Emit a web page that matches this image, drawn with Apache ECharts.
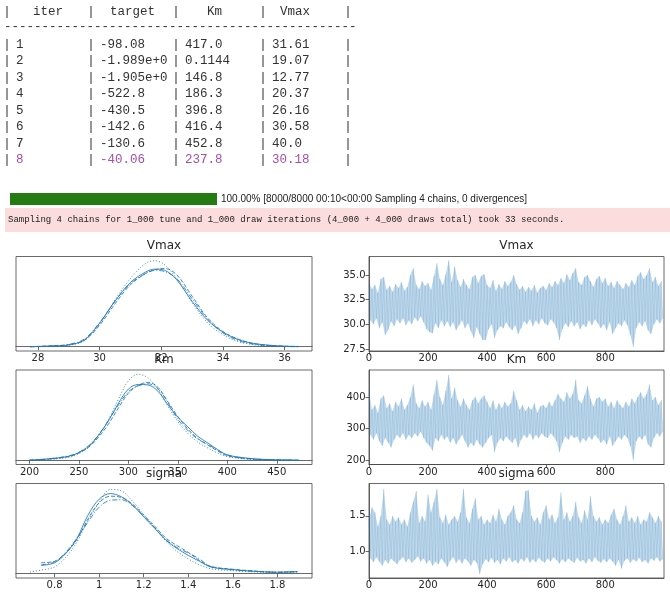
<!DOCTYPE html>
<html>
<head>
<meta charset="utf-8">
<title>trace plot</title>
<script src="https://cdn.jsdelivr.net/npm/echarts@6/dist/echarts.min.js"></script>
<style>
body { margin: 0; background: #fff; }
#main { width: 670px; height: 604px; }
</style>
</head>
<body>
<div id="main"></div>
<script type="text/javascript">

// optimizer log table
var tableHeader = ['iter', 'target', 'Km', 'Vmax'];
var iterCol   = ['1', '2', '3', '4', '5', '6', '7', '8'];
var targetCol = ['-98.08', '-1.989e+0', '-1.905e+0', '-522.8', '-430.5', '-142.6', '-130.6', '-40.06'];
var kmCol     = ['417.0', '0.1144', '146.8', '186.3', '396.8', '416.4', '452.8', '237.8'];
var vmaxCol   = ['31.61', '19.07', '12.77', '20.37', '26.16', '30.58', '40.0', '30.18'];
var bestRow = 7;

var progressText = '100.00% [8000/8000 00:10<00:00 Sampling 4 chains, 0 divergences]';
var warnText = 'Sampling 4 chains for 1_000 tune and 1_000 draw iterations (4_000 + 4_000 draws total) took 33 seconds.';

var varNames = ['Vmax', 'Km', 'sigma'];

// KDE of each chain (solid, dashed, dotted, dash-dot)
var vmaxGrid = [27.75, 28.5, 29, 29.5, 30, 30.5, 31, 31.5, 31.8, 32.1, 32.5, 33, 33.5, 34, 34.5, 35, 35.5, 36, 36.45];
var vmaxKde1 = [0, 0.003, 0.007, 0.026, 0.093, 0.18, 0.254, 0.296, 0.307, 0.303, 0.265, 0.18, 0.105, 0.058, 0.028, 0.013, 0.006, 0.002, 0.001];
var vmaxKde2 = [0, 0.004, 0.008, 0.025, 0.085, 0.17, 0.245, 0.29, 0.305, 0.31, 0.285, 0.2, 0.115, 0.06, 0.03, 0.012, 0.005, 0.002, 0.001];
var vmaxKde3 = [0, 0.002, 0.006, 0.024, 0.09, 0.185, 0.27, 0.33, 0.34, 0.325, 0.27, 0.175, 0.095, 0.048, 0.02, 0.008, 0.003, 0.001, 0];
var vmaxKde4 = [0, 0.003, 0.009, 0.03, 0.095, 0.18, 0.25, 0.29, 0.302, 0.298, 0.27, 0.19, 0.11, 0.055, 0.024, 0.01, 0.004, 0.001, 0];

// Km densities in units of 1e-3
var kmGrid = [200, 220, 240, 250, 260, 270, 280, 290, 300, 310, 320, 330, 340, 350, 360, 370, 380, 390, 400, 420, 440, 472];
var kmKde1 = [0, 0.2, 0.55, 1.06, 1.94, 3.46, 5.44, 7.84, 9.77, 10.4, 10.33, 9.45, 7.6, 5.9, 4.6, 3.3, 2.4, 1.48, 0.74, 0.28, 0.1, 0];
var kmKde2 = [0, 0.15, 0.5, 1.0, 1.8, 3.2, 5.0, 7.2, 9.2, 10.3, 10.7, 10.0, 8.0, 6.0, 4.3, 3.0, 2.1, 1.3, 0.6, 0.2, 0.07, 0];
var kmKde3 = [0, 0.1, 0.4, 0.9, 1.8, 3.4, 5.6, 8.4, 10.9, 11.8, 11.3, 9.7, 7.4, 5.3, 3.7, 2.5, 1.7, 1.0, 0.5, 0.15, 0.05, 0];
var kmKde4 = [0, 0.2, 0.6, 1.1, 2.0, 3.5, 5.5, 7.6, 9.4, 10.2, 10.5, 9.8, 7.9, 5.6, 4.1, 2.9, 2.2, 1.4, 0.7, 0.25, 0.08, 0];

var sigmaGrid = [0.69, 0.74, 0.8, 0.85, 0.9, 0.95, 1.0, 1.05, 1.1, 1.15, 1.2, 1.25, 1.3, 1.35, 1.4, 1.45, 1.5, 1.6, 1.7, 1.8, 1.89];
var sigmaKde1 = [null, 0.28, 0.37, 0.68, 1.19, 1.98, 2.52, 2.71, 2.6, 2.32, 1.92, 1.53, 1.13, 0.85, 0.62, 0.42, 0.23, 0.14, 0.08, 0.05, 0.07];
var sigmaKde2 = [null, 0.37, 0.42, 0.7, 1.15, 1.85, 2.4, 2.62, 2.58, 2.35, 1.98, 1.6, 1.2, 0.95, 0.72, 0.45, 0.25, 0.15, 0.09, 0.05, 0.08];
var sigmaKde3 = [0.06, 0.12, 0.23, 0.55, 1.07, 1.8, 2.4, 2.85, 2.8, 2.45, 2.0, 1.55, 1.1, 0.75, 0.5, 0.3, 0.17, 0.1, 0.06, 0.04, 0.05];
var sigmaKde4 = [null, 0.3, 0.4, 0.72, 1.2, 1.75, 2.25, 2.48, 2.5, 2.3, 1.95, 1.55, 1.15, 0.88, 0.7, 0.5, 0.24, 0.13, 0.08, 0.05, 0.07];

// trace: high / low of the draws in every block of 10 draws
var drawStep = 10;
var vmaxHi = [34.2,33.6,34.0,33.2,34.6,34.8,33.5,33.9,33.3,34.1, 33.7,34.3,33.4,33.8,35.0,35.7,34.0,33.6,34.4,33.9,
              34.2,33.5,34.9,36.2,34.6,34.0,35.1,36.5,34.3,35.9, 34.5,33.8,34.6,34.0,33.6,34.8,35.0,34.2,34.9,35.1,
              34.0,33.7,34.5,33.4,34.1,33.6,34.4,33.9,34.3,35.0, 34.1,33.5,33.9,33.3,33.8,33.4,34.0,33.2,33.7,33.9,
              33.5,34.2,33.8,34.4,34.0,34.7,34.2,35.1,34.5,35.2, 35.7,34.3,34.0,34.8,35.0,34.4,33.8,34.6,34.9,34.2,
              34.7,33.9,34.3,33.7,34.4,34.0,33.6,34.2,33.8,34.5, 34.0,34.9,35.3,34.6,35.0,35.7,34.3,34.8,33.9,34.4];
var vmaxLo = [30.4,30.0,30.6,29.6,30.2,28.9,29.4,30.3,29.8,30.5, 30.1,30.6,29.9,30.4,30.0,30.7,30.3,30.8,30.2,29.5,
              29.2,29.1,30.1,29.6,30.4,29.8,30.3,29.7,30.2,29.4, 29.9,30.4,29.6,30.1,29.3,28.6,29.7,29.0,28.4,28.4,
              29.5,30.0,28.6,29.4,29.8,29.6,30.2,29.7,29.4,29.9, 29.0,29.6,30.3,30.0,30.5,29.8,30.4,30.0,30.6,30.1,
              29.9,30.5,30.2,29.6,28.4,29.5,30.1,29.7,30.3,29.8, 30.2,29.5,30.0,29.7,30.4,29.9,30.5,30.1,29.6,30.0,
              29.4,30.2,29.0,29.6,30.1,29.8,30.4,29.9,28.9,27.7, 29.6,30.2,29.8,30.3,29.4,29.0,30.0,30.5,30.1,30.6];
var kmHi = [420,360,375,350,395,405,365,380,355,385, 370,395,360,375,400,440,380,365,390,370,
            385,360,410,455,400,375,420,470,395,430, 390,370,395,375,360,390,400,380,395,405,
            385,365,390,360,380,365,385,370,380,420, 390,360,375,355,370,360,380,350,370,375,
            365,385,370,390,410,395,385,415,395,410, 455,390,380,405,435,395,370,395,400,385,
            395,370,385,365,390,375,365,385,370,395, 380,400,415,395,410,440,390,400,375,390];
var kmLo = [280,265,285,260,245,270,255,240,265,280, 270,285,265,280,270,285,275,290,270,255,
            245,230,270,260,280,265,275,255,270,250, 265,280,260,240,255,245,265,250,240,255,
            270,280,225,255,270,260,275,265,255,270, 240,265,280,270,285,265,280,270,285,275,
            270,285,275,260,225,255,275,265,280,270, 275,255,270,260,275,265,280,270,255,265,
            250,275,245,260,275,265,280,270,245,200, 260,275,265,280,250,240,270,285,275,290];
var sigmaHi = [1.45,1.62,1.55,1.35,1.50,1.88,1.45,1.38,1.50,1.42, 1.48,1.38,1.45,1.35,1.55,1.70,1.85,1.40,1.50,1.42,
               1.80,1.55,1.70,1.88,1.48,1.40,1.52,1.38,1.45,1.50, 1.42,1.55,1.88,1.48,1.40,1.60,1.75,1.45,1.50,1.38,
               1.45,1.40,1.52,1.42,1.60,1.45,1.38,1.50,1.55,1.65, 1.45,1.40,1.55,1.85,1.86,1.50,1.42,1.48,1.38,1.55,
               1.65,1.45,1.52,1.40,1.48,1.83,1.45,1.55,1.42,1.50, 1.70,1.48,1.40,1.58,1.45,1.78,1.50,1.42,1.48,1.38,
               1.45,1.40,1.52,1.60,1.45,1.38,1.50,1.65,1.42,1.48, 1.40,1.50,1.38,1.45,1.42,1.55,1.48,1.40,1.50,1.42];
var sigmaLo = [0.90,0.85,0.92,0.86,0.80,0.88,0.83,0.90,0.86,0.82, 0.88,0.92,0.85,0.90,0.84,0.88,0.93,0.86,0.90,0.83,
               0.88,0.80,0.86,0.82,0.90,0.85,0.78,0.87,0.92,0.84, 0.89,0.83,0.90,0.86,0.80,0.88,0.84,0.68,0.82,0.89,
               0.85,0.91,0.84,0.88,0.82,0.90,0.86,0.92,0.85,0.88, 0.83,0.90,0.86,0.92,0.84,0.89,0.85,0.91,0.87,0.84,
               0.90,0.86,0.92,0.88,0.83,0.89,0.85,0.90,0.87,0.84, 0.91,0.86,0.88,0.83,0.90,0.85,0.92,0.87,0.84,0.89,
               0.85,0.90,0.86,0.80,0.88,0.76,0.87,0.90,0.84,0.89, 0.86,0.91,0.85,0.88,0.83,0.90,0.87,0.92,0.86,0.89];

// axis ranges & ticks
var vmaxRange = [27.29, 36.89], kmRange = [186.4, 485.6], sigmaRange = [0.627, 1.955];
var vmaxTicks = [28, 30, 32, 34, 36], kmTicks = [200, 250, 300, 350, 400, 450], sigmaTicks = [0.8, 1.0, 1.2, 1.4, 1.6, 1.8];
var vmaxTraceTicks = [27.5, 30, 32.5, 35], kmTraceTicks = [200, 300, 400], sigmaTraceTicks = [1.0, 1.5];
var drawTicks = [0, 200, 400, 600, 800];
var kdeTop = [0.357, 12.39, 3.05];

var blue = '#1f77b4';
var frameColor = '#444';
var textColor = '#262626';
var dashTypes = ['solid', [4, 2], [1, 2], [5, 2, 1, 2]];

var myChart = echarts.init(document.getElementById('main'));

// ---- text parts (table, progress bar, warning) ----
var graphics = [];
var mono = '"Liberation Mono", "DejaVu Sans Mono", monospace';
function txt(x, y, s, font, color, align) {
    graphics.push({
        type: 'text', x: x, y: y, silent: true,
        style: { text: s, font: font, fill: color, textAlign: align || 'left', textVerticalAlign: 'middle', align: align || 'left', verticalAlign: 'middle' }
    });
}
var pipeX = [7, 91, 176, 263, 348];
var headX = [33, 110, 207, 280];
var rowY0 = 44.3, rowStep = 16.55;
var tableFont = '12.5px ' + mono;
pipeX.forEach(function (px) { txt(px, 12, '|', tableFont, '#333', 'center'); });
tableHeader.forEach(function (h, i) { txt(headX[i], 12, h, tableFont, '#333'); });
txt(4, 27, new Array(48).join('-'), tableFont, '#333');
var cols = [iterCol, targetCol, kmCol, vmaxCol];
for (var r = 0; r < iterCol.length; r++) {
    var y = rowY0 + r * rowStep;
    var c = (r === bestRow) ? '#a64ea8' : '#333';
    pipeX.forEach(function (px) { txt(px, y, '|', tableFont, '#333', 'center'); });
    for (var k = 0; k < cols.length; k++) {
        txt(pipeX[k] + 9, y, cols[k][r], tableFont, c);
    }
}
graphics.push({ type: 'rect', silent: true, shape: { x: 10, y: 193, width: 207, height: 12 }, style: { fill: '#237b12' } });
txt(221, 199, progressText, '10px "Liberation Sans", Arial, sans-serif', '#222');
graphics.push({ type: 'rect', silent: true, shape: { x: 5, y: 208, width: 665, height: 24 }, style: { fill: '#fbdddd' } });
txt(8, 220, warnText, '9px ' + mono, '#222');

// ---- plots ----
var gridLeft = [16, 369], gridWidth = [296, 295];
var gridTop = [256.5, 370, 483.5], gridHeight = 94.5;
var titleY = [246, 360, 474];
var titleX = [164, 516.5];

var grids = [], xAxes = [], yAxes = [], series = [];
var kdeGrids = [vmaxGrid, kmGrid, sigmaGrid];
var kdes = [[vmaxKde1, vmaxKde2, vmaxKde3, vmaxKde4], [kmKde1, kmKde2, kmKde3, kmKde4], [sigmaKde1, sigmaKde2, sigmaKde3, sigmaKde4]];
var ranges = [vmaxRange, kmRange, sigmaRange];
var kdeTicks = [vmaxTicks, kmTicks, sigmaTicks];
var traceTicks = [vmaxTraceTicks, kmTraceTicks, sigmaTraceTicks];
var his = [vmaxHi, kmHi, sigmaHi], los = [vmaxLo, kmLo, sigmaLo];
var fmt = [function (v) { return v.toFixed(1); }, function (v) { return String(Math.round(v)); }, function (v) { return v.toFixed(1); }];
var labelStyle = { color: textColor, fontSize: 10, fontFamily: '"DejaVu Sans", sans-serif' };

function xAxisFor(gi, range, ticks, formatter) {
    return {
        type: 'value', gridIndex: gi, min: range[0], max: range[1],
        axisLine: { show: true, lineStyle: { color: frameColor, width: 0.8 } },
        axisTick: { show: true, inside: false, length: 3.5, customValues: ticks, lineStyle: { color: frameColor, width: 0.8 } },
        axisLabel: Object.assign({ margin: 2.5, customValues: ticks, formatter: formatter }, labelStyle),
        splitLine: { show: false }
    };
}

// band between high and low of each draw block, drawn through the axis scales
function bandRenderer(hi, lo) {
    return function (params, api) {
        if (params.dataIndex !== 0) return;
        var pts = [];
        for (var i = 0; i < hi.length; i++) pts.push(api.coord([i * drawStep, hi[i]]));
        for (var j = lo.length - 1; j >= 0; j--) pts.push(api.coord([j * drawStep + drawStep / 2, lo[j]]));
        return {
            type: 'polygon',
            shape: { points: pts },
            style: { fill: blue, opacity: 0.28 }
        };
    };
}

for (var p = 0; p < 3; p++) {
    // KDE panel (left)
    var gk = grids.length;
    grids.push({ left: gridLeft[0], top: gridTop[p], width: gridWidth[0], height: gridHeight, show: true, borderColor: frameColor, borderWidth: 0.8 });
    xAxes.push(xAxisFor(gk, ranges[p], kdeTicks[p], function (v) { return String(+v.toFixed(2)); }));
    yAxes.push({ type: 'value', gridIndex: gk, min: -kdeTop[p] / 21, max: kdeTop[p], show: false });
    for (var ch = 0; ch < 4; ch++) {
        var pts = [];
        kdeGrids[p].forEach(function (x, i) { if (kdes[p][ch][i] !== null) pts.push([x, kdes[p][ch][i]]); });
        series.push({
            type: 'line', xAxisIndex: gk, yAxisIndex: gk, data: pts, smooth: 0.35, showSymbol: false, silent: true,
            lineStyle: { color: blue, width: 1, opacity: 0.85, type: dashTypes[ch] }
        });
    }
    // trace panel (right)
    var gt = grids.length;
    grids.push({ left: gridLeft[1], top: gridTop[p], width: gridWidth[1], height: gridHeight, show: true, borderColor: frameColor, borderWidth: 0.8 });
    xAxes.push(xAxisFor(gt, [0, 999], drawTicks, function (v) { return String(v); }));
    yAxes.push({
        type: 'value', gridIndex: gt, min: ranges[p][0], max: ranges[p][1],
        axisLine: { show: true, lineStyle: { color: frameColor, width: 0.8 } },
        axisTick: { show: true, inside: false, length: 3.5, customValues: traceTicks[p], lineStyle: { color: frameColor, width: 0.8 } },
        axisLabel: Object.assign({ margin: 3.5, customValues: traceTicks[p], formatter: fmt[p] }, labelStyle),
        splitLine: { show: false }
    });
    var zig = [];
    his[p].forEach(function (h, i) {
        zig.push([i * drawStep, h]);
        zig.push([i * drawStep + drawStep / 2, los[p][i]]);
    });
    series.push({
        type: 'custom', xAxisIndex: gt, yAxisIndex: gt, silent: true, clip: true,
        data: zig.slice(0, 1), renderItem: bandRenderer(his[p], los[p])
    });
    series.push({
        type: 'line', xAxisIndex: gt, yAxisIndex: gt, data: zig, showSymbol: false, silent: true,
        lineStyle: { color: blue, width: 0.5, opacity: 0.28 }
    });
    // titles
    txt(titleX[0], titleY[p], varNames[p], '12px "DejaVu Sans", sans-serif', textColor, 'center');
    txt(titleX[1], titleY[p], varNames[p], '12px "DejaVu Sans", sans-serif', textColor, 'center');
}

var option = {
    animation: false,
    grid: grids,
    xAxis: xAxes,
    yAxis: yAxes,
    series: series,
    graphic: { elements: graphics }
};
myChart.setOption(option);
</script>
</body>
</html>
